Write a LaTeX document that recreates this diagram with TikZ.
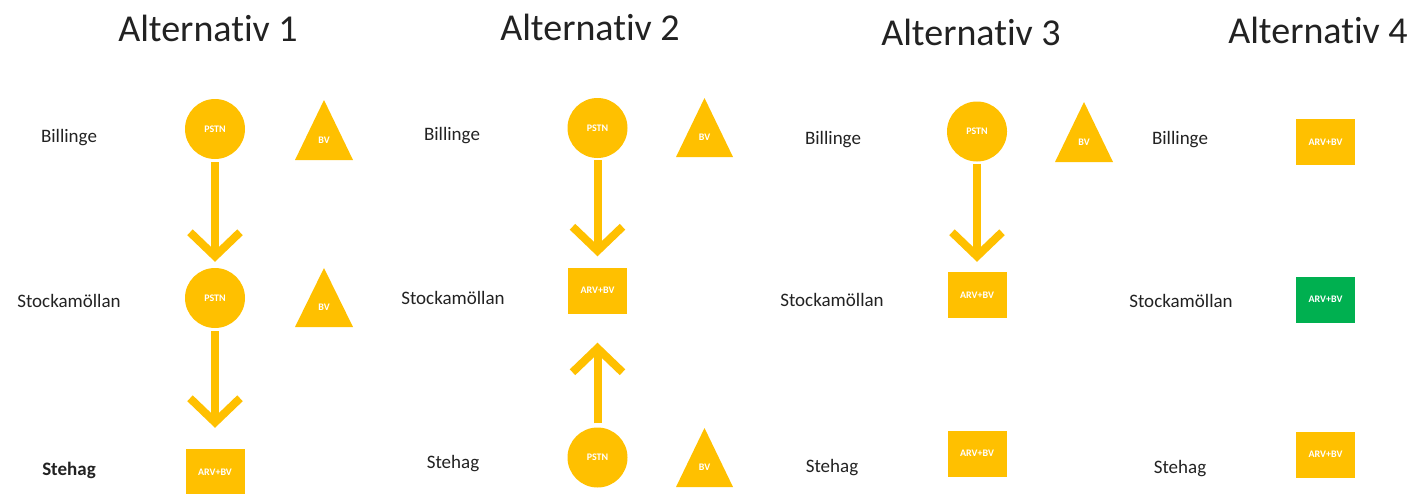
\documentclass[tikz,border=0pt]{standalone}
\usepackage{fontspec}
\setmainfont{Carlito}[Ligatures=NoCommon]
\usetikzlibrary{arrows.meta}
\definecolor{gold}{HTML}{FFC000}
\definecolor{grn}{HTML}{00B050}
\definecolor{txt}{HTML}{222222}
\tikzset{
  title/.style={font=\fontsize{38}{40}\selectfont, text=txt, anchor=base, inner sep=0},
  place/.style={font=\fontsize{19}{21}\selectfont, text=txt, anchor=mid, inner sep=0},
  pstn/.style={circle, fill=gold, minimum size=60pt, inner sep=0, text=white, font=\fontsize{10}{11}\selectfont\bfseries},
  box/.style={rectangle, fill=gold, minimum width=59pt, minimum height=46pt, inner sep=0, text=white, font=\fontsize{10}{11}\selectfont\bfseries},
  bvtext/.style={text=white, font=\fontsize{10}{11}\selectfont\bfseries, inner sep=0},
  flow/.style={draw=gold, line width=8pt, -{Straight Barb[length=24pt, width=50pt, line join=miter]}},
}
\begin{document}
\begin{tikzpicture}[x=1pt,y=-1pt]
\useasboundingbox (0,0) rectangle (1416,493);
% titles
\node[title] (h1) at (208,41) {Alternativ 1};
\node[title] (h2) at (590,40) {Alternativ 2};
\node[title] (h3) at (971,45) {Alternativ 3};
\node[title] (h4) at (1318,43) {Alternativ 4};
% ---- Alternativ 1
\node[place] (a1b) at (69,140) {Billinge};
\node[place] (a1s) at (69,305) {Stockamöllan};
\node[place, font=\fontsize{19}{21}\selectfont\bfseries] (a1t) at (69,473) {Stehag};
\node[pstn] (a1c1) at (215,129) {PSTN};
\node[pstn] (a1c2) at (215,298) {PSTN};
\node[box] (a1q) at (215,472) {ARV+BV};
\fill[gold] (295,160) -- (324,100) -- (353,160) -- cycle;
\node[bvtext] (a1v1) at (324,140) {BV};
\fill[gold] (295,327) -- (324,268) -- (353,327) -- cycle;
\node[bvtext] (a1v2) at (324,307) {BV};
\draw[flow, shorten <=3pt, shorten >=6pt] (a1c1) -- (a1c2);
\draw[flow, shorten <=3pt, shorten >=21pt] (a1c2) -- (a1q);
% ---- Alternativ 2
\node[place] (a2b) at (452,138) {Billinge};
\node[place] (a2s) at (453,302) {Stockamöllan};
\node[place] (a2t) at (453,466) {Stehag};
\node[pstn] (a2c1) at (597.5,128) {PSTN};
\node[box] (a2q) at (597.5,290.5) {ARV+BV};
\node[pstn] (a2c2) at (597.5,457.5) {PSTN};
\fill[gold] (676,157) -- (704.5,98) -- (733,157) -- cycle;
\node[bvtext] (a2v1) at (704.5,137) {BV};
\fill[gold] (676,487) -- (704.5,428) -- (733,487) -- cycle;
\node[bvtext] (a2v2) at (704.5,467) {BV};
\draw[flow, shorten <=2pt, shorten >=11pt] (a2c1) -- (a2q);
\draw[flow, shorten <=4pt, shorten >=29pt] (a2c2) -- (a2q);
% ---- Alternativ 3
\node[place] (a3b) at (833,142) {Billinge};
\node[place] (a3s) at (832,304) {Stockamöllan};
\node[place] (a3t) at (832,470) {Stehag};
\node[pstn] (a3c1) at (977,131.5) {PSTN};
\node[box] (a3q1) at (977,295) {ARV+BV};
\node[box] (a3q2) at (977,453.5) {ARV+BV};
\fill[gold] (1055,162) -- (1084,102) -- (1113,162) -- cycle;
\node[bvtext] (a3v1) at (1084,142) {BV};
\draw[flow, shorten <=2pt, shorten >=10pt] (a3c1) -- (a3q1);
% ---- Alternativ 4
\node[place] (a4b) at (1180,142) {Billinge};
\node[place] (a4s) at (1181,305) {Stockamöllan};
\node[place] (a4t) at (1180,471) {Stehag};
\node[box] (a4q1) at (1325.5,142) {ARV+BV};
\node[box, fill=grn] (a4q2) at (1325.5,299.5) {ARV+BV};
\node[box] (a4q3) at (1325.5,454.5) {ARV+BV};
\end{tikzpicture}
\end{document}
